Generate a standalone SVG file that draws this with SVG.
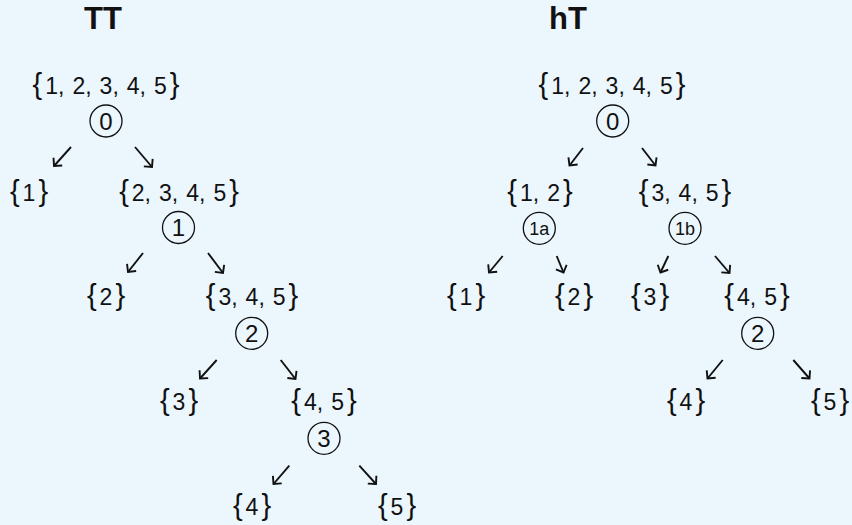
<svg xmlns="http://www.w3.org/2000/svg" width="852" height="525" viewBox="0 0 852 525">
<style>
.t{font-family:"Liberation Sans",Arial,sans-serif;font-size:23px;fill:#111;text-anchor:middle}
.b{font-size:29px}
.d{font-family:"Liberation Sans",Arial,sans-serif;font-size:24px;fill:#111;text-anchor:middle}
.s{font-family:"Liberation Sans",Arial,sans-serif;font-size:18px;fill:#111;text-anchor:middle}
.h{font-family:"Liberation Sans",Arial,sans-serif;font-size:31px;font-weight:bold;fill:#111;text-anchor:middle}
.c{fill:none;stroke:#111;stroke-width:1.3}
.a{stroke:#111;stroke-width:1.9;fill:none;marker-end:url(#ah)}
</style>
<defs>
<marker id="ah" markerUnits="userSpaceOnUse" viewBox="-8 -8 10 16" refX="0" refY="0" markerWidth="10" markerHeight="16" orient="auto">
<path d="M-5.8,-5.8 L0,0 L-5.8,5.8" fill="none" stroke="#111" stroke-width="1.9"/>
</marker>
</defs>
<rect width="852" height="525" fill="#EBF6FD"/>
<text class="h" x="103" y="29">TT</text>
<text class="h" x="568" y="29">hT</text>
<g id="L0"><text class="t" x="106" y="94"><tspan class="b">{</tspan><tspan dx="3">1,</tspan><tspan dx="8">2,</tspan><tspan dx="8">3,</tspan><tspan dx="8">4,</tspan><tspan dx="8">5</tspan><tspan class="b" dx="3">}</tspan></text><circle class="c" cx="106" cy="121" r="16"/><text class="d" x="106" y="129.6">0</text></g>
<g id="L1"><text class="t" x="29" y="201"><tspan class="b">{</tspan><tspan dx="3">1</tspan><tspan class="b" dx="3">}</tspan></text></g>
<g id="L2345"><text class="t" x="179" y="201"><tspan class="b">{</tspan><tspan dx="3">2,</tspan><tspan dx="8">3,</tspan><tspan dx="8">4,</tspan><tspan dx="8">5</tspan><tspan class="b" dx="3">}</tspan></text><circle class="c" cx="178.5" cy="227.5" r="16"/><text class="d" x="178.5" y="236.1">1</text></g>
<g id="L2"><text class="t" x="106" y="305"><tspan class="b">{</tspan><tspan dx="3">2</tspan><tspan class="b" dx="3">}</tspan></text></g>
<g id="L345"><text class="t" x="252" y="305"><tspan class="b">{</tspan><tspan dx="3">3,</tspan><tspan dx="8">4,</tspan><tspan dx="8">5</tspan><tspan class="b" dx="3">}</tspan></text><circle class="c" cx="251.7" cy="333.3" r="16"/><text class="d" x="251.7" y="341.9">2</text></g>
<g id="L3"><text class="t" x="179" y="410"><tspan class="b">{</tspan><tspan dx="3">3</tspan><tspan class="b" dx="3">}</tspan></text></g>
<g id="L45"><text class="t" x="324" y="410"><tspan class="b">{</tspan><tspan dx="3">4,</tspan><tspan dx="8">5</tspan><tspan class="b" dx="3">}</tspan></text><circle class="c" cx="324" cy="438.3" r="16"/><text class="d" x="324" y="446.9">3</text></g>
<g id="L4"><text class="t" x="252" y="515"><tspan class="b">{</tspan><tspan dx="3">4</tspan><tspan class="b" dx="3">}</tspan></text></g>
<g id="L5"><text class="t" x="397" y="515"><tspan class="b">{</tspan><tspan dx="3">5</tspan><tspan class="b" dx="3">}</tspan></text></g>

<g id="R0"><text class="t" x="612" y="94"><tspan class="b">{</tspan><tspan dx="3">1,</tspan><tspan dx="8">2,</tspan><tspan dx="8">3,</tspan><tspan dx="8">4,</tspan><tspan dx="8">5</tspan><tspan class="b" dx="3">}</tspan></text><circle class="c" cx="612.7" cy="121" r="16"/><text class="d" x="612.7" y="129.6">0</text></g>
<g id="R12"><text class="t" x="540" y="201"><tspan class="b">{</tspan><tspan dx="3">1,</tspan><tspan dx="8">2</tspan><tspan class="b" dx="3">}</tspan></text><circle class="c" cx="539.3" cy="228.3" r="16"/><text class="s" x="539.3" y="234.6">1a</text></g>
<g id="R345"><text class="t" x="685" y="201"><tspan class="b">{</tspan><tspan dx="3">3,</tspan><tspan dx="8">4,</tspan><tspan dx="8">5</tspan><tspan class="b" dx="3">}</tspan></text><circle class="c" cx="685" cy="228.3" r="16"/><text class="s" x="685" y="234.6">1b</text></g>
<g id="R1"><text class="t" x="466" y="305"><tspan class="b">{</tspan><tspan dx="3">1</tspan><tspan class="b" dx="3">}</tspan></text></g>
<g id="R2"><text class="t" x="574" y="305"><tspan class="b">{</tspan><tspan dx="3">2</tspan><tspan class="b" dx="3">}</tspan></text></g>
<g id="R3"><text class="t" x="650" y="305"><tspan class="b">{</tspan><tspan dx="3">3</tspan><tspan class="b" dx="3">}</tspan></text></g>
<g id="R45"><text class="t" x="757" y="305"><tspan class="b">{</tspan><tspan dx="3">4,</tspan><tspan dx="8">5</tspan><tspan class="b" dx="3">}</tspan></text><circle class="c" cx="757.7" cy="333.3" r="16"/><text class="d" x="757.7" y="341.9">2</text></g>
<g id="R4"><text class="t" x="686" y="410"><tspan class="b">{</tspan><tspan dx="3">4</tspan><tspan class="b" dx="3">}</tspan></text></g>
<g id="R5"><text class="t" x="830" y="410"><tspan class="b">{</tspan><tspan dx="3">5</tspan><tspan class="b" dx="3">}</tspan></text></g>

<g id="connectors">
<line class="a" x1="71" y1="147" x2="54" y2="166"/>
<line class="a" x1="135" y1="147" x2="152" y2="167"/>
<line class="a" x1="143" y1="253" x2="128" y2="272"/>
<line class="a" x1="208" y1="253" x2="223" y2="273"/>
<line class="a" x1="216.7" y1="360" x2="200" y2="378.5"/>
<line class="a" x1="280.7" y1="360" x2="295.5" y2="379"/>
<line class="a" x1="289.3" y1="465.7" x2="273.5" y2="484"/>
<line class="a" x1="359.3" y1="465.7" x2="376" y2="484"/>
<line class="a" x1="583" y1="148" x2="569.5" y2="165.5"/>
<line class="a" x1="642" y1="148" x2="655.5" y2="165.5"/>
<line class="a" x1="502.7" y1="256" x2="489" y2="272.5"/>
<line class="a" x1="556.7" y1="256" x2="563.5" y2="272.5"/>
<line class="a" x1="668.3" y1="256" x2="660.5" y2="272.5"/>
<line class="a" x1="715" y1="256" x2="729.5" y2="273"/>
<line class="a" x1="722.7" y1="360" x2="707.5" y2="378.5"/>
<line class="a" x1="793.3" y1="360" x2="809.5" y2="378.5"/>
</g>
</svg>
